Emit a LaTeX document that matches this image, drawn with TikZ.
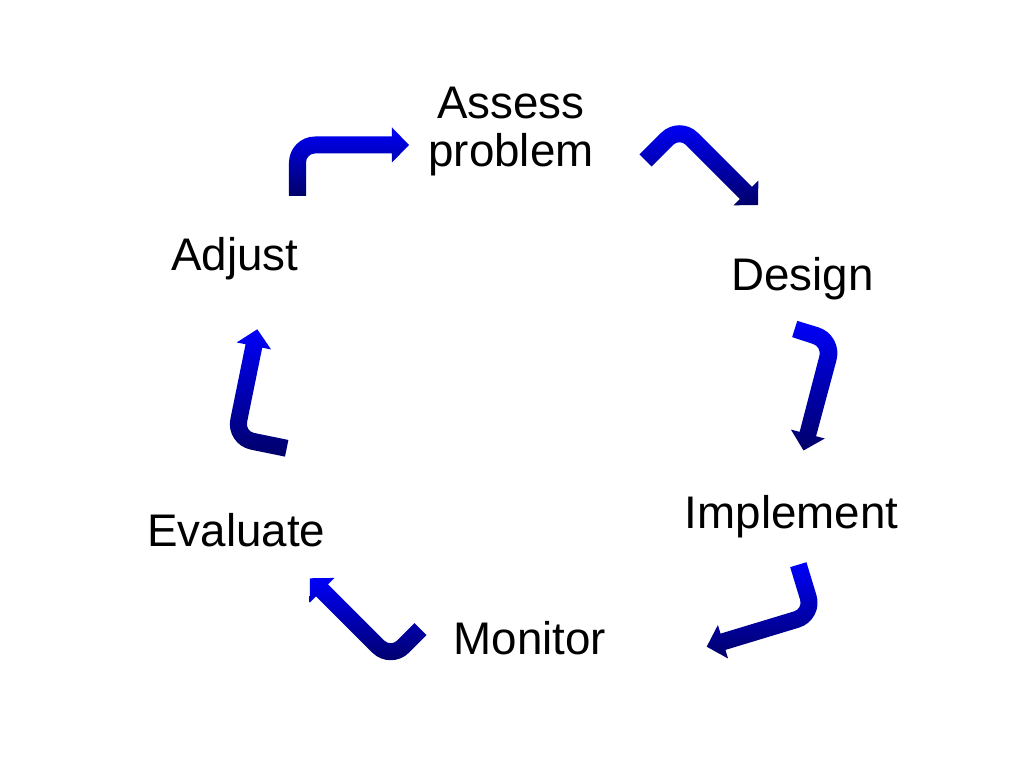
\documentclass[tikz,border=0pt]{standalone}
\usepackage{fontspec}
\setmainfont{Liberation Sans}
\usepackage{tikz}
\usetikzlibrary{calc}

\definecolor{arrowtop}{RGB}{0,0,250}
\definecolor{arrowbot}{RGB}{0,0,105}

\begin{document}
\begin{tikzpicture}[x=0.01cm, y=-0.01cm,
    stagetext/.style={font=\fontsize{13}{13.8}\selectfont, align=center, anchor=base, inner sep=0pt}]
    \useasboundingbox (0,0) rectangle (1024,768);

    % Stages of the cycle
    \node[stagetext] (assess) at (511,166.7) {Assess\\problem};
    \node[stagetext] (design) at (802.5,291) {Design};
    \node[stagetext] (implement) at (791.7,528.3) {Implement};
    \node[stagetext] (monitor) at (530,655) {Monitor};
    \node[stagetext] (evaluate) at (236.4,546.7) {Evaluate};
    \node[stagetext] (adjust) at (235,271) {Adjust};

    % Bent arrows: tail, bend, tip
    \foreach \i/\tx/\ty/\cx/\cy/\px/\py in {1/297.5/196/297.5/145/409/145, 2/645.5/160.5/679.5/126.5/758/205, 3/794.7/329/832.5/340.9/803.5/450.5, 4/798.3/564.7/813.4/614.4/706.7/646.7, 5/420.5/629.2/390.7/659/310/578.3, 6/286.7/448.3/235.2/437.8/257.3/329.3} {
      \coordinate (a\i-t) at (\tx,\ty);
      \coordinate (a\i-c) at (\cx,\cy);
      \coordinate (a\i-p) at (\px,\py);
      \coordinate (a\i-b) at ($(a\i-p)!0.17cm!(a\i-c)$);

      % Outline on both sides
      \coordinate (a\i-tl) at ($(a\i-t)!0.085cm!90:(a\i-c)$);
      \coordinate (a\i-tr) at ($(a\i-t)!0.085cm!-90:(a\i-c)$);
      \coordinate (a\i-bl) at ($(a\i-b)!0.085cm!90:(a\i-p)$);
      \coordinate (a\i-br) at ($(a\i-b)!0.085cm!-90:(a\i-p)$);
      \coordinate (a\i-hl) at ($(a\i-b)!0.175cm!90:(a\i-p)$);
      \coordinate (a\i-hr) at ($(a\i-b)!0.175cm!-90:(a\i-p)$);
      \coordinate (a\i-cl) at ($(a\i-c)+(a\i-tl)-(a\i-t)+(a\i-bl)-(a\i-b)$);
      \coordinate (a\i-cr) at ($(a\i-c)+(a\i-tr)-(a\i-t)+(a\i-br)-(a\i-b)$);

      % Round the bend
      \coordinate (a\i-l1) at ($(a\i-cl)!0.26cm!(a\i-tl)$);
      \coordinate (a\i-l2) at ($(a\i-cl)!0.1165cm!(a\i-tl)$);
      \coordinate (a\i-l3) at ($(a\i-cl)!0.1165cm!(a\i-bl)$);
      \coordinate (a\i-l4) at ($(a\i-cl)!0.26cm!(a\i-bl)$);
      \coordinate (a\i-r1) at ($(a\i-cr)!0.09cm!(a\i-tr)$);
      \coordinate (a\i-r2) at ($(a\i-cr)!0.0403cm!(a\i-tr)$);
      \coordinate (a\i-r3) at ($(a\i-cr)!0.0403cm!(a\i-br)$);
      \coordinate (a\i-r4) at ($(a\i-cr)!0.09cm!(a\i-br)$);

      \shade[top color=arrowtop, bottom color=arrowbot] (a\i-tl) -- (a\i-l1) .. controls (a\i-l2) and (a\i-l3) .. (a\i-l4) -- (a\i-bl) -- (a\i-hl) -- (a\i-p) -- (a\i-hr) -- (a\i-br) -- (a\i-r4) .. controls (a\i-r3) and (a\i-r2) .. (a\i-r1) -- (a\i-tr) -- cycle;
    }
\end{tikzpicture}
\end{document}
